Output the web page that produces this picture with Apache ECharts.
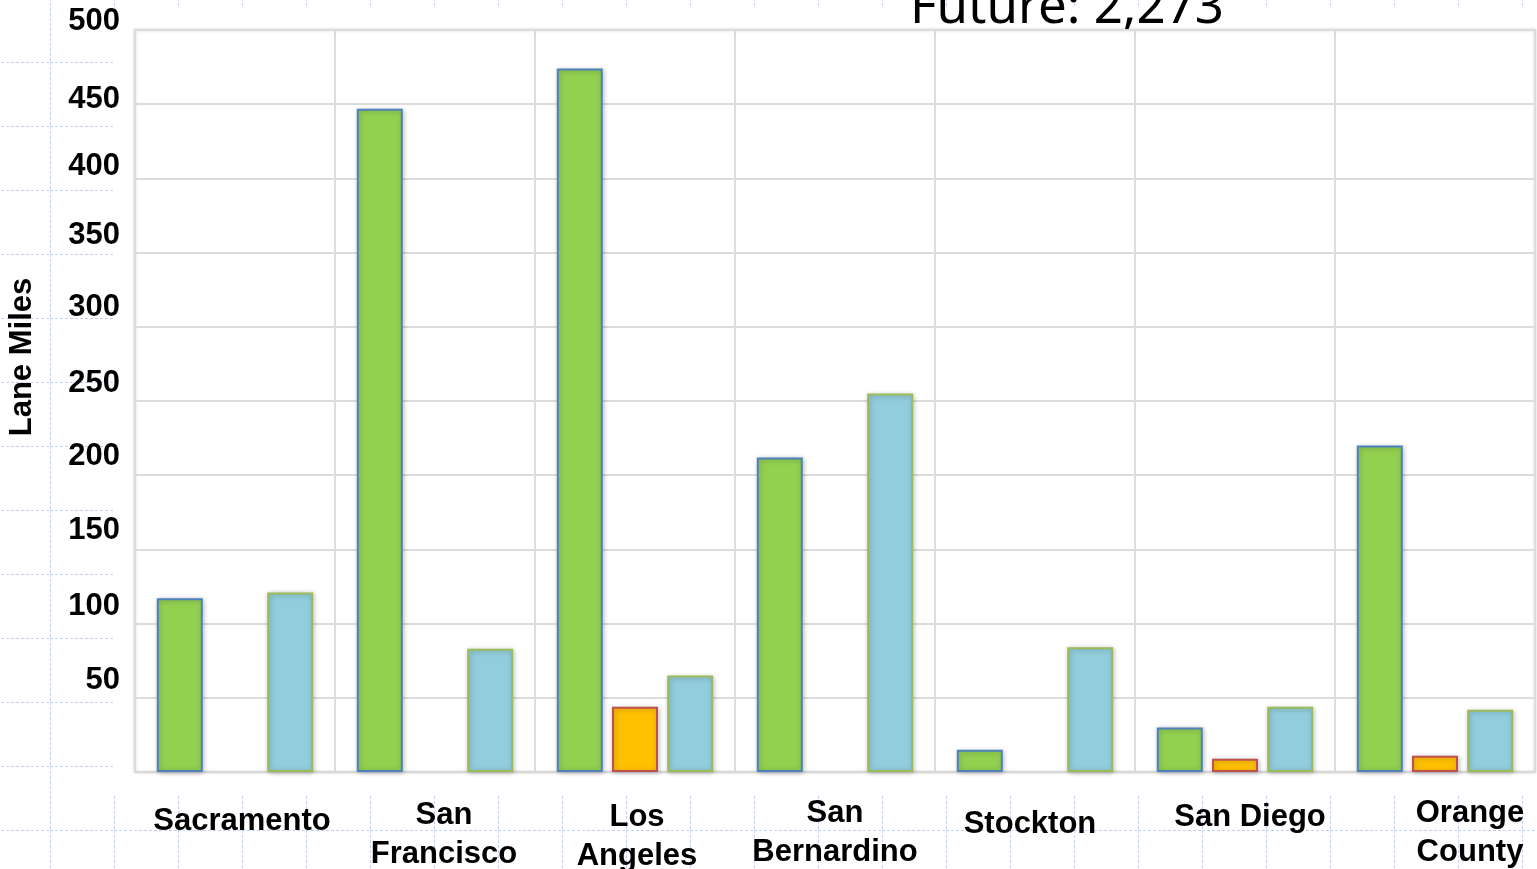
<!DOCTYPE html>
<html>
<head>
<meta charset="utf-8">
<title>Lane Miles by Region</title>
<script src="https://cdn.jsdelivr.net/npm/echarts@6/dist/echarts.min.js"></script>
<style>
  html, body { margin: 0; padding: 0; }
  body {
    width: 1537px; height: 869px; overflow: hidden; position: relative;
    background-color: #ffffff;
    background-image: url("data:image/svg+xml;utf8,<svg xmlns='http://www.w3.org/2000/svg' width='64' height='64'><path d='M0.5 0V64M0 0.5H64' stroke='%23c4d1f5' stroke-width='1' stroke-dasharray='3 2' fill='none'/></svg>");
    background-position: 50px -2px;
  }
  #sheet { position: absolute; left: 114px; top: 8px; width: 1423px; height: 787px; background: #fff; }
  #chart { position: absolute; left: 0; top: 0; width: 1537px; height: 869px; }
</style>
</head>
<body>
<div id="sheet"></div>
<div id="chart"></div>
<script>
// Regions along the x axis
const regions = ['Sacramento', 'San\nFrancisco', 'Los\nAngeles', 'San\nBernardino', 'Stockton', 'San Diego', 'Orange\nCounty'];

// Lane miles per region
const existingMiles = [117, 447, 474, 212, 15, 30, 220];
const constructionMiles = [null, null, 44, null, null, 9, 11];
const plannedMiles = [121, 83, 65, 255, 84, 44, 42];

// Value axis ticks
const yMin = 0;
const yMax = 500;
const yStep = 50;

const titleText = 'Future: 2,273';
const axisTitle = 'Lane Miles';

// Label nudges (style only): lift for tick labels, per-region [down, right] shifts for category labels
const tickLift = { 500: 9, 450: 5, 400: 12, 350: 17, 300: 19, 250: 18, 200: 19, 150: 19, 100: 17, 50: 17 };
const regionShift = {
  'Sacramento': [8, 7], 'San\nFrancisco': [2, 9], 'Los\nAngeles': [4, 2], 'San\nBernardino': [0, 0],
  'Stockton': [11, -5], 'San Diego': [4, 15], 'Orange\nCounty': [0, 35]
};

const labelFont = 'Liberation Sans, Arial, sans-serif';

const yRich = {};
Object.keys(tickLift).forEach(function (k) {
  yRich['t' + k] = { fontFamily: labelFont, fontWeight: 'bold', fontSize: 31, color: '#000', padding: [0, 0, tickLift[k] * 2, 0] };
});
const xRich = {};
regions.forEach(function (r, i) {
  const s = regionShift[r];
  const left = s[1] > 0 ? s[1] * 2 : 0;
  const right = s[1] < 0 ? -s[1] * 2 : 0;
  xRich['c' + i] = { fontFamily: labelFont, fontWeight: 'bold', fontSize: 31, lineHeight: 39, color: '#000', padding: [s[0] * 2, right, 0, left] };
});

const chart = echarts.init(document.getElementById('chart'), null, { renderer: 'canvas' });

function barStyle(fill, edge) {
  return {
    color: fill, borderColor: edge, borderWidth: 2,
    shadowBlur: 5, shadowColor: 'rgba(0,0,0,0.25)', shadowOffsetX: 1, shadowOffsetY: 1
  };
}

chart.setOption({
  backgroundColor: 'transparent',
  animation: false,
  grid: {
    left: 135, right: 2, top: 30, bottom: 97,
    outerBoundsMode: 'none', containLabel: false,
    show: true, backgroundColor: '#ffffff', borderColor: '#d9d9d9', borderWidth: 2,
    shadowBlur: 3, shadowColor: 'rgba(0,0,0,0.15)'
  },
  graphic: [
    {
      type: 'text', x: 1067, y: 8,
      style: { text: titleText, fill: '#000', font: '51px "Noto Sans", "Open Sans", sans-serif', align: 'center', verticalAlign: 'middle' }
    },
    {
      type: 'text', x: 22, y: 357, rotation: Math.PI / 2,
      style: { text: axisTitle, fill: '#000', font: 'bold 31px "Liberation Sans", Arial, sans-serif', align: 'center', verticalAlign: 'middle' }
    }
  ],
  xAxis: {
    type: 'category',
    data: regions,
    boundaryGap: true,
    axisLine: { show: true, lineStyle: { color: '#d9d9d9', width: 2 } },
    axisTick: { show: false },
    splitLine: { show: true, lineStyle: { color: '#dcdcdc', width: 2 } },
    axisLabel: {
      interval: 0, margin: 22, verticalAlign: 'top',
      formatter: function (v) {
        const i = regions.indexOf(v);
        return v.split('\n').map(function (line) { return '{c' + i + '|' + line + '}'; }).join('\n');
      },
      rich: xRich
    }
  },
  yAxis: {
    type: 'value',
    min: yMin, max: yMax, interval: yStep,
    axisLine: { show: false },
    axisTick: { show: false },
    splitLine: { show: true, lineStyle: { color: '#dcdcdc', width: 2 } },
    axisLabel: {
      margin: 15,
      formatter: function (v) { return v === 0 ? '' : '{t' + v + '|' + v + '}'; },
      rich: yRich
    }
  },
  series: [
    { name: 'Existing', type: 'bar', data: existingMiles, barWidth: 46, barGap: '20%', itemStyle: barStyle('#92d050', '#4f81bd') },
    { name: 'Under Construction', type: 'bar', data: constructionMiles, barWidth: 46, barGap: '20%', itemStyle: barStyle('#ffc000', '#c0504d') },
    { name: 'Planned', type: 'bar', data: plannedMiles, barWidth: 46, barGap: '20%', itemStyle: barStyle('#92cddc', '#9bbb59') }
  ]
});
</script>
</body>
</html>
